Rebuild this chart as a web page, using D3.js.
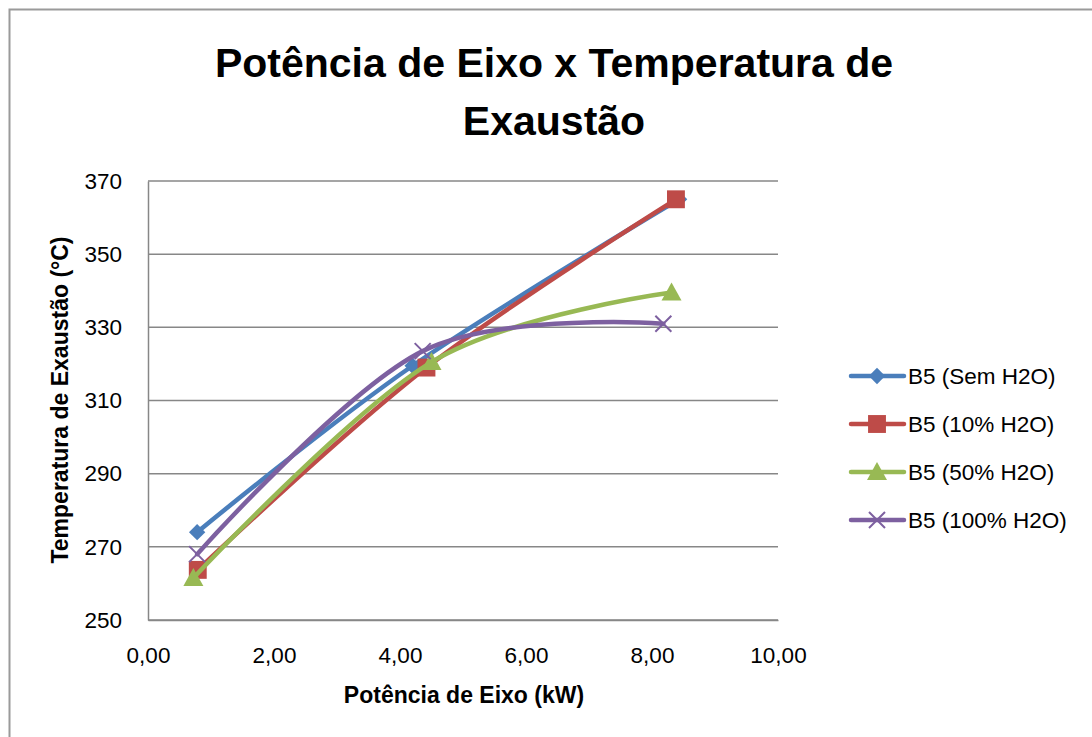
<!DOCTYPE html>
<html>
<head>
<meta charset="utf-8">
<script src="https://cdn.jsdelivr.net/npm/d3@7"></script>
<style>
  html, body { margin: 0; padding: 0; background: #fff; }
  svg { display: block; font-family: "Liberation Sans", Arial, sans-serif; }
</style>
</head>
<body>
<svg id="chart" width="1092" height="737"></svg>
<script>
// Shaft power (kW) vs exhaust temperature (°C) for B5 blends with water
const seriesNames = ["B5 (Sem H2O)", "B5 (10% H2O)", "B5 (50% H2O)", "B5 (100% H2O)"];
const powerSem  = [0.78, 4.20, 8.43];
const tempSem   = [274, 319.5, 365];
const power10   = [0.79, 4.42, 8.38];
const temp10    = [263.7, 319, 365];
const power50   = [0.72, 4.50, 8.31];
const temp50    = [261.5, 320.5, 339.5];
const power100  = [0.78, 4.36, 8.18];
const temp100   = [268, 323.5, 331];
const xTicks = [0, 2, 4, 6, 8, 10];
const yTicks = [250, 270, 290, 310, 330, 350, 370];

const colors = ["#4A7EBB", "#BE4B48", "#98B954", "#7D60A0"];
const markers = ["diamond", "square", "triangle", "cross"];

const series = [
  { name: seriesNames[0], xs: powerSem, ys: tempSem },
  { name: seriesNames[1], xs: power10,  ys: temp10 },
  { name: seriesNames[2], xs: power50,  ys: temp50 },
  { name: seriesNames[3], xs: power100, ys: temp100 }
].map((s, i) => ({ ...s, color: colors[i], marker: markers[i],
  pts: s.xs.map((x, j) => [x, s.ys[j]]) }));

const svg = d3.select("#chart");

// outer chart frame
svg.append("rect")
  .attr("x", 9.5).attr("y", 9.5).attr("width", 1100).attr("height", 760)
  .attr("fill", "none").attr("stroke", "#9a9a9a").attr("stroke-width", 2);

const x = d3.scaleLinear().domain([0, 10]).range([148, 778]);
const y = d3.scaleLinear().domain([250, 370]).range([620, 181]);
const fmt = v => d3.format(".2f")(v).replace(".", ",");

// horizontal gridlines
svg.append("g").selectAll("line").data(yTicks).join("line")
  .attr("x1", x(0)).attr("x2", x(10))
  .attr("y1", d => y(d)).attr("y2", d => y(d))
  .attr("stroke", "#878787").attr("stroke-width", 1.5);

// y axis
const yAxis = svg.append("g").attr("transform", `translate(${x(0)},0)`)
  .call(d3.axisLeft(y).tickValues(yTicks).tickSize(0).tickPadding(26));
yAxis.select(".domain").attr("stroke", "#878787").attr("stroke-width", 1.5);
yAxis.selectAll("text").attr("font-size", 22.5).attr("fill", "#000")
  .attr("font-family", "Liberation Sans, Arial, sans-serif");

// x axis
const xAxis = svg.append("g").attr("transform", `translate(0,${y(250)})`)
  .call(d3.axisBottom(x).tickValues(xTicks).tickFormat(fmt).tickSize(0).tickPadding(27));
xAxis.select(".domain").attr("stroke", "#878787").attr("stroke-width", 1.5);
xAxis.selectAll("text").attr("font-size", 22.5).attr("fill", "#000")
  .attr("font-family", "Liberation Sans, Arial, sans-serif");

// titles
const title = svg.append("text").attr("text-anchor", "middle")
  .attr("font-weight", "bold").attr("font-size", 41).attr("fill", "#000");
title.append("tspan").attr("x", 554).attr("y", 77).text("Potência de Eixo x Temperatura de");
title.append("tspan").attr("x", 554).attr("y", 135).text("Exaustão");

svg.append("text").attr("x", 464).attr("y", 703).attr("text-anchor", "middle")
  .attr("font-weight", "bold").attr("font-size", 23).text("Potência de Eixo (kW)");

svg.append("text").attr("transform", "translate(68,400) rotate(-90)")
  .attr("text-anchor", "middle").attr("font-weight", "bold").attr("font-size", 23)
  .text("Temperatura de Exaustão (°C)");

// marker drawing
function drawMarker(g, type, color) {
  if (type === "diamond") {
    g.append("path").attr("d", d3.symbol(d3.symbolDiamond2, 170)())
      .attr("fill", color);
  } else if (type === "square") {
    g.append("path").attr("d", d3.symbol(d3.symbolSquare, 320)())
      .attr("fill", color);
  } else if (type === "triangle") {
    g.append("path").attr("d", "M0,-10 L10,8 L-10,8 Z").attr("fill", color);
  } else {
    g.append("path").attr("d", "M-8,-8 L8,8 M-8,8 L8,-8")
      .attr("stroke", color).attr("stroke-width", 2).attr("fill", "none");
  }
}

const line = d3.line().x(d => x(d[0])).y(d => y(d[1])).curve(d3.curveCardinal.tension(0));

const plot = svg.append("g");
series.forEach(s => {
  plot.append("path").datum(s.pts).attr("d", line)
    .attr("fill", "none").attr("stroke", s.color).attr("stroke-width", 4.5)
    .attr("stroke-linecap", "round").attr("stroke-linejoin", "round");
  s.pts.forEach(p => {
    const g = plot.append("g").attr("transform", `translate(${x(p[0])},${y(p[1])})`);
    drawMarker(g, s.marker, s.color);
  });
});

// legend
const legend = svg.append("g");
series.forEach((s, i) => {
  const ly = 376 + i * 48;
  legend.append("line").attr("x1", 851).attr("x2", 904).attr("y1", ly).attr("y2", ly)
    .attr("stroke", s.color).attr("stroke-width", 4.5).attr("stroke-linecap", "round");
  const g = legend.append("g").attr("transform", `translate(877,${ly})`);
  drawMarker(g, s.marker, s.color);
  legend.append("text").attr("x", 908).attr("y", ly).attr("dy", "0.36em")
    .attr("font-size", 22.5).attr("fill", "#000").text(s.name);
});
</script>
</body>
</html>
